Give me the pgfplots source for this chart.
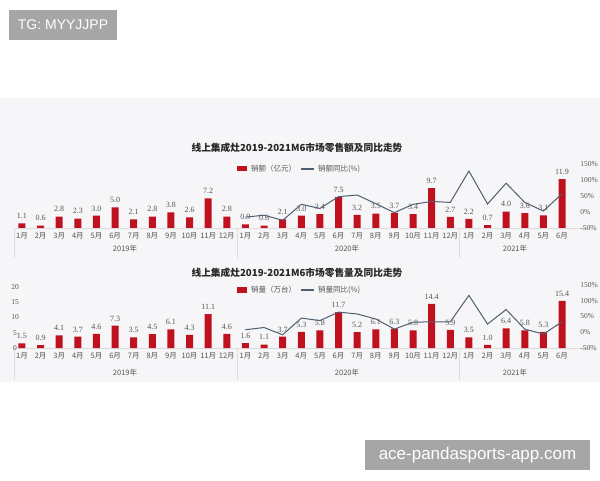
\documentclass[border=0pt]{standalone}
\usepackage{fontspec}
\setmainfont{Liberation Serif}
\newfontfamily\cjk{Noto Sans CJK SC}
\newfontfamily\sans{Liberation Sans}
\usepackage{pgfplots}
\pgfplotsset{compat=1.18}
\definecolor{barred}{HTML}{C0111F}
\definecolor{linec}{HTML}{4D5F70}
\definecolor{panel}{HTML}{F6F6F8}
\definecolor{txt}{HTML}{555555}
\definecolor{wm}{HTML}{A6A6A6}
\definecolor{sep}{HTML}{DDDDDF}
\pgfplotsset{
  barax/.style={scale only axis, width=569.8pt, xmin=-0.8, xmax=29.8, ymin=0,
    axis line style={draw=none}, major tick length=0pt, clip=false,
    xtick={0,...,29},
    xticklabels={1月,2月,3月,4月,5月,6月,7月,8月,9月,10月,11月,12月,1月,2月,3月,4月,5月,6月,7月,8月,9月,10月,11月,12月,1月,2月,3月,4月,5月,6月},
    xticklabel style={font=\cjk\fontsize{7.5}{8}\selectfont, text=txt, yshift=-1pt},
    ybar, bar width=7pt,
    nodes near coords={\pgfmathprintnumber[fixed,fixed zerofill,precision=1,assume math mode=true]{\pgfplotspointmeta}},
    every node near coord/.append style={font=\fontsize{8}{9}\selectfont, text=txt, yshift=1pt}},
  lineax/.style={scale only axis, width=569.8pt, xmin=-0.8, xmax=29.8, ymin=-50, ymax=150,
    axis y line*=right, axis x line=none, axis line style={draw=none}, major tick length=0pt, clip=false,
    ytick={-50,0,50,100,150},
    yticklabel={\pgfmathprintnumber[assume math mode=true]{\tick}\%},
    yticklabel style={font=\fontsize{7.5}{8}\selectfont, text=txt}}
}
\begin{document}
\begin{tikzpicture}
\path[use as bounding box] (0,0) rectangle (600pt,480pt);
\begin{scope}[x=1pt,y=1pt]
\fill[panel] (0,98) rectangle (600,382);
% top chart frame
\draw[sep, line width=0.6pt] (14,252) -- (592,252);
\draw[sep, line width=0.6pt] (14,252) -- (14,222);
\draw[sep, line width=0.6pt] (237,252) -- (237,222);
\draw[sep, line width=0.6pt] (459,252) -- (459,222);
% bottom chart frame
\draw[sep, line width=0.6pt] (14,132) -- (592,132);
\draw[sep, line width=0.6pt] (14,132) -- (14,100);
\draw[sep, line width=0.6pt] (237,132) -- (237,100);
\draw[sep, line width=0.6pt] (459,132) -- (459,100);
% titles
\node[font=\cjk\bfseries\fontsize{9.7}{12}\selectfont, text=black!85] at (297,332) {线上集成灶2019-2021M6市场零售额及同比走势};
\node[font=\cjk\bfseries\fontsize{9.7}{12}\selectfont, text=black!85] at (297,207) {线上集成灶2019-2021M6市场零售量及同比走势};
% legends
\fill[barred] (237,308.5) rectangle (247,314);
\node[anchor=west, font=\cjk\fontsize{7.5}{8}\selectfont, text=txt, inner sep=0] at (251,311) {销额（亿元）};
\draw[linec, line width=1.1pt] (301,311) -- (314,311);
\node[anchor=west, font=\cjk\fontsize{7.5}{8}\selectfont, text=txt, inner sep=0] at (318,311) {销额同比(\%)};
\fill[barred] (237,187.5) rectangle (247,193);
\node[anchor=west, font=\cjk\fontsize{7.5}{8}\selectfont, text=txt, inner sep=0] at (251,190) {销量（万台）};
\draw[linec, line width=1.1pt] (301,190) -- (314,190);
\node[anchor=west, font=\cjk\fontsize{7.5}{8}\selectfont, text=txt, inner sep=0] at (318,190) {销量同比(\%)};
% year labels
\foreach \xx/\yy in {125/2019,347/2020,515/2021}{
  \node[font=\cjk\fontsize{7.5}{8}\selectfont, text=txt] at (\xx,231) {\yy 年};
  \node[font=\cjk\fontsize{7.5}{8}\selectfont, text=txt] at (\xx,107) {\yy 年};
}
% watermark boxes
\fill[wm] (9,440) rectangle (117,470);
\node[font=\sans\fontsize{14}{16}\selectfont, text=white] at (63,455) {TG: MYYJJPP};
\fill[wm] (365,10) rectangle (590,40);
\node[font=\sans\fontsize{17}{19}\selectfont, text=white] at (477.5,25) {ace-pandasports-app.com};
\end{scope}

% ===== top chart: sales value =====
\begin{axis}[barax, at={(7.1pt,252pt)}, anchor=south west, height=64pt, ymax=15.6, ytick=\empty]
\addplot[fill=barred, draw=none] coordinates {
(0,1.1)(1,0.6)(2,2.8)(3,2.3)(4,3.0)(5,5.0)(6,2.1)(7,2.8)(8,3.8)(9,2.6)(10,7.2)(11,2.8)
(12,0.9)(13,0.6)(14,2.1)(15,3.0)(16,3.4)(17,7.5)(18,3.2)(19,3.5)(20,3.7)(21,3.4)(22,9.7)(23,2.7)
(24,2.2)(25,0.7)(26,4.0)(27,3.6)(28,3.1)(29,11.9)};
\end{axis}
\begin{axis}[lineax, at={(7.1pt,252pt)}, anchor=south west, height=64pt]
\addplot[linec, line width=1pt, mark=none] coordinates {
(12,-16)(13,-10)(14,-26)(15,24)(16,11)(17,48)(18,53)(19,26)(20,-2)(21,24)(22,33)(23,30)
(24,128)(25,25)(26,90)(27,30)(28,3)(29,57)};
\end{axis}

% ===== bottom chart: sales volume =====
\begin{axis}[barax, at={(7.1pt,132pt)}, anchor=south west, height=63pt, ymax=20.6,
  ytick={0,5,10,15,20},
  yticklabel style={font=\fontsize{7.5}{8}\selectfont, text=txt, anchor=center, xshift=8pt},
  yticklabel={\pgfmathprintnumber[assume math mode=true]{\tick}}]
\addplot[fill=barred, draw=none] coordinates {
(0,1.5)(1,0.9)(2,4.1)(3,3.7)(4,4.6)(5,7.3)(6,3.5)(7,4.5)(8,6.1)(9,4.3)(10,11.1)(11,4.6)
(12,1.6)(13,1.1)(14,3.7)(15,5.3)(16,5.8)(17,11.7)(18,5.2)(19,6.1)(20,6.3)(21,5.8)(22,14.4)(23,5.9)
(24,3.5)(25,1.0)(26,6.4)(27,5.8)(28,5.3)(29,15.4)};
\end{axis}
\begin{axis}[lineax, at={(7.1pt,132pt)}, anchor=south west, height=63pt]
\addplot[linec, line width=1pt, mark=none] coordinates {
(12,8)(13,15)(14,-8)(15,45)(16,37)(17,64)(18,58)(19,42)(20,10)(21,32)(22,33)(23,33)
(24,117)(25,26)(26,72)(27,10)(28,-6)(29,33)};
\end{axis}
\end{tikzpicture}
\end{document}
